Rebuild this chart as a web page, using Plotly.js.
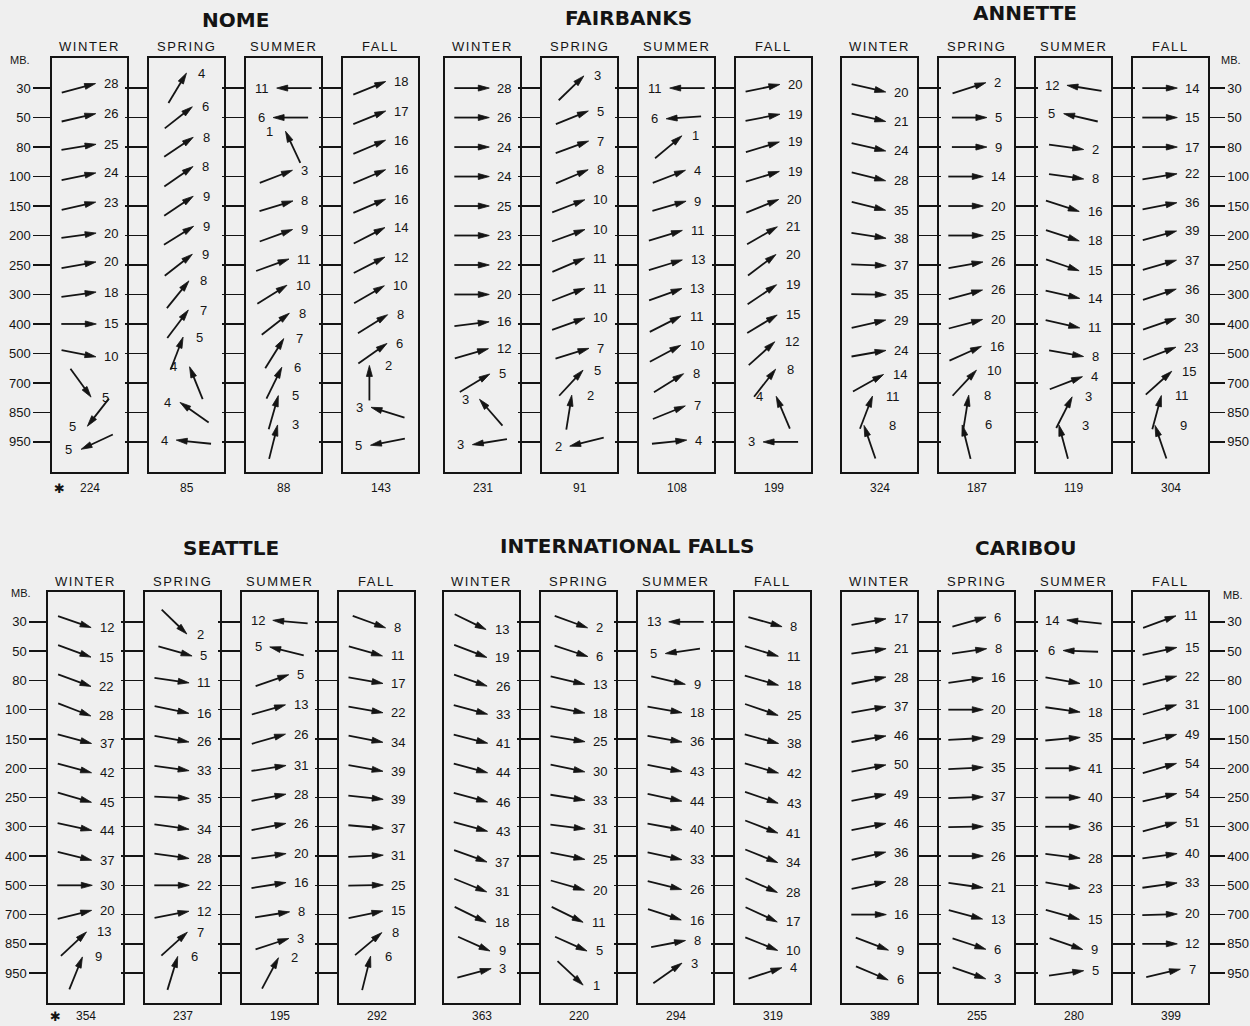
<!DOCTYPE html>
<html><head><meta charset="utf-8">
<script src="https://cdn.plot.ly/plotly-3.0.1.min.js"></script>
<style>body{margin:0;background:#efefef}</style>
</head><body><div id="chart" style="width:1250px;height:1026px"></div>
<script>
// ---------------- DATA ----------------
const LEVELS = ['30','50','80','100','150','200','250','300','400','500','700','850','950'];
const SEASONS = ['WINTER','SPRING','SUMMER','FALL'];
const STATIONS = ['NOME','FAIRBANKS','ANNETTE','SEATTLE','INTERNATIONAL FALLS','CARIBOU'];

// wind direction (degrees, direction the wind blows FROM), per season [winter, spring, summer, fall], per level
const NOME_DIR = [
 [255,257,261,258,257,262,260,262,270,281,324,38,65],
 [211,232,236,235,236,238,232,219,217,201,158,125,96],
 [90,90,155,249,253,250,250,238,232,212,206,196,194],
 [248,248,247,247,247,243,243,240,238,235,180,107,79]];
const NOME_SPD = [
 [28,26,25,24,23,20,20,18,15,10,5,5,5],
 [4,6,8,8,9,9,9,8,7,5,4,4,4],
 [11,6,1,3,8,9,11,10,8,7,6,5,3],
 [18,17,16,16,16,14,12,10,8,6,2,3,5]];
const NOME_N = [224,85,88,143];

const FAIRBANKS_DIR = [
 [270,270,270,270,270,270,270,270,263,254,239,139,81],
 [226,248,250,247,249,250,247,249,250,253,223,189,76],
 [90,86,230,249,254,253,253,250,243,242,238,248,264],
 [258,259,253,253,248,240,233,236,239,228,218,157,90]];
const FAIRBANKS_SPD = [
 [28,26,24,24,25,23,22,20,16,12,5,3,3],
 [3,5,7,8,10,10,11,11,10,7,5,2,2],
 [11,6,1,4,9,11,13,13,11,10,8,7,4],
 [20,19,19,19,20,21,20,19,15,12,8,4,3]];
const FAIRBANKS_N = [231,91,108,199];

const ANNETTE_DIR = [
 [283,283,283,284,284,279,272,271,257,260,241,201,161],
 [252,270,270,270,270,270,260,255,255,246,223,189,166],
 [99,103,278,278,288,288,289,283,283,280,249,207,165],
 [270,270,270,261,259,255,254,252,251,249,228,195,161]];
const ANNETTE_SPD = [
 [20,21,24,28,35,38,37,35,29,24,14,11,8],
 [2,5,9,14,20,25,26,26,20,16,10,8,6],
 [12,5,2,8,16,18,15,14,11,8,4,3,3],
 [14,15,17,22,36,39,37,36,30,23,15,11,9]];
const ANNETTE_N = [324,187,119,304];

const SEATTLE_DIR = [
 [289,290,290,291,285,285,286,282,284,270,256,227,202],
 [314,286,278,282,280,278,273,278,278,270,259,228,197],
 [95,104,251,254,254,261,259,259,262,261,261,252,208],
 [290,286,280,280,281,280,276,275,267,269,258,230,194]];
const SEATTLE_SPD = [
 [12,15,22,28,37,42,45,44,37,30,20,13,9],
 [2,5,11,16,26,33,35,34,28,22,12,7,6],
 [12,5,5,13,26,31,28,26,20,16,8,3,2],
 [8,11,17,22,34,39,39,37,31,25,15,8,6]];
const SEATTLE_N = [354,237,195,292];

const INTLFALLS_DIR = [
 [296,291,289,285,284,285,285,285,290,292,296,294,255],
 [290,288,283,281,279,282,279,277,281,286,296,294,313],
 [90,82,283,280,280,281,282,280,282,284,288,259,235],
 [286,287,286,289,285,286,289,291,292,294,295,292,252]];
const INTLFALLS_SPD = [
 [13,19,26,33,41,44,46,43,37,31,18,9,3],
 [2,6,13,18,25,30,33,31,25,20,11,5,1],
 [13,5,9,18,36,43,44,40,33,26,16,8,3],
 [8,11,18,25,38,42,43,41,34,28,17,10,4]];
const INTLFALLS_N = [363,220,294,319];

const CARIBOU_DIR = [
 [260,262,259,260,260,259,259,259,257,258,270,291,293],
 [254,262,262,270,267,267,268,269,270,278,285,288,289],
 [96,92,280,278,265,270,270,270,277,280,286,289,262],
 [250,258,256,254,255,254,257,255,262,262,268,270,257]];
const CARIBOU_SPD = [
 [17,21,28,37,46,50,49,46,36,28,16,9,6],
 [6,8,16,20,29,35,37,35,26,21,13,6,3],
 [14,6,10,18,35,41,40,36,28,23,15,9,5],
 [11,15,22,31,49,54,54,51,40,33,20,12,7]];
const CARIBOU_N = [389,255,280,399];

// ---------------- LAYOUT ----------------
const DIRS = [NOME_DIR, FAIRBANKS_DIR, ANNETTE_DIR, SEATTLE_DIR, INTLFALLS_DIR, CARIBOU_DIR];
const SPDS = [NOME_SPD, FAIRBANKS_SPD, ANNETTE_SPD, SEATTLE_SPD, INTLFALLS_SPD, CARIBOU_SPD];
const NS = [NOME_N, FAIRBANKS_N, ANNETTE_N, SEATTLE_N, INTLFALLS_N, CARIBOU_N];

const W = 1250, H = 1026;
const rowTop = [58, 592], rowBot = [472, 1003];
const stationLeft = [[52, 445, 842], [48, 444, 842]];
const seasonOff = [0, 97, 194, 291];
const panelW = 75;
const yRange = [13.02, -1.02];
const titleY = [[20, 18, 13], [548, 546, 548]];
const seasonY = [47, 581];
const countY = [488, 1016];
const INK = '#141414';
const numFont = {family: 'Liberation Sans, Arial, sans-serif', size: 13, color: INK};

const traces = [];
const annotations = [];
const layout = {
  width: W, height: H,
  margin: {l: 0, r: 0, t: 0, b: 0},
  paper_bgcolor: '#efefef', plot_bgcolor: 'rgba(0,0,0,0)',
  showlegend: false,
  annotations: annotations
};

function pap(x, y) { return {xref: 'paper', yref: 'paper', x: x / W, y: 1 - y / H}; }

for (let s = 0; s < 6; s++) {
  const row = Math.floor(s / 3), col = s % 3;
  const left0 = stationLeft[row][col];
  const pxPerY = (rowBot[row] - rowTop[row]) / (yRange[0] - yRange[1]);
  annotations.push(Object.assign(pap(left0 + (seasonOff[3] + panelW) / 2, titleY[row][col]), {
    text: STATIONS[s], showarrow: false, xanchor: 'center', yanchor: 'middle',
    font: {family: 'DejaVu Sans, sans-serif', size: 20, color: INK, weight: 'bold'}
  }));
  for (let q = 0; q < 4; q++) {
    const n = s * 4 + q + 1;
    const xid = 'x' + (n === 1 ? '' : n), yid = 'y' + (n === 1 ? '' : n);
    const xl = left0 + seasonOff[q];
    const xr = xl + panelW;
    const cxPx = (xl + xr) / 2;
    layout['xaxis' + (n === 1 ? '' : n)] = {
      domain: [xl / W, xr / W], anchor: yid, range: [-panelW / 2, panelW / 2],
      showline: true, mirror: true, linecolor: INK, linewidth: 1.6,
      showgrid: false, zeroline: false, ticks: '', showticklabels: false, fixedrange: true
    };
    const ya = {
      domain: [1 - rowBot[row] / H, 1 - rowTop[row] / H], anchor: xid, range: yRange,
      showline: true, mirror: true, linecolor: INK, linewidth: 1.6,
      showgrid: false, zeroline: false, fixedrange: true,
      tickmode: 'array', tickvals: LEVELS.map((_, i) => i), ticktext: LEVELS,
      ticks: '', showticklabels: false, tickcolor: INK, tickwidth: 1.4,
      tickfont: {family: 'Liberation Sans, Arial, sans-serif', size: 13, color: INK}
    };
    if (col === 2) {
      ya.side = 'right';
      ya.ticks = 'outside';
      if (q < 3) { ya.ticklen = 22; }
      else { ya.ticklen = 15; ya.showticklabels = true; }
    } else {
      if (q > 0) { ya.ticks = 'outside'; ya.ticklen = 22; }
      else if (col === 0) { ya.ticks = 'outside'; ya.ticklen = 17; ya.showticklabels = true; }
    }
    layout['yaxis' + (n === 1 ? '' : n)] = ya;

    annotations.push(Object.assign(pap(cxPx, seasonY[row]), {
      text: '<span style="letter-spacing:1.6px">' + SEASONS[q] + '</span>', showarrow: false,
      xanchor: 'center', yanchor: 'middle',
      font: {family: 'Liberation Sans, Arial, sans-serif', size: 13, color: INK}
    }));
    annotations.push(Object.assign(pap(cxPx, countY[row]), {
      text: String(NS[s][q]), showarrow: false, xanchor: 'center', yanchor: 'middle',
      font: {family: 'Liberation Sans, Arial, sans-serif', size: 12, color: INK}
    }));
    if (col === 0 && q === 0) {
      annotations.push(Object.assign(pap(xl + 7, countY[row]), {
        text: '✱', showarrow: false, xanchor: 'center', yanchor: 'middle',
        font: {family: 'DejaVu Sans, sans-serif', size: 13, color: INK}
      }));
    }

    // arrows
    const shaftX = [], shaftY = [], headX = [], headY = [];
    const L = 35, HL = 11, HW = 3;
    for (let i = 0; i < LEVELS.length; i++) {
      const d = DIRS[s][q][i], v = SPDS[s][q][i];
      const rad = d * Math.PI / 180;
      const ux = -Math.sin(rad), uy = Math.cos(rad); // screen px, y downwards
      const lw = String(v).length * 7.2;
      const aw = Math.abs(ux) * L;
      const g = 7 + 8 * (1 - Math.abs(ux));
      const sx = ux > -0.35 ? 1 : -1;
      const group = aw + g + lw, gx0 = -group / 2;
      let bx0, labX;
      if (sx > 0) { bx0 = gx0; labX = gx0 + aw + g; }
      else { labX = gx0 + lw; bx0 = gx0 + lw + g; }
      const acx = bx0 + aw / 2;
      const tx = acx - ux * L / 2, ty = -uy * L / 2;
      const hx = acx + ux * L / 2, hy = uy * L / 2;
      const bxp = hx - ux * HL, byp = hy - uy * HL;
      const nx = -uy, ny = ux;
      const toY = p => i + p / pxPerY;
      shaftX.push(tx, hx - ux * (HL - 2), null);
      shaftY.push(toY(ty), toY(hy - uy * (HL - 2)), null);
      headX.push(hx, bxp + nx * HW, bxp - nx * HW, hx, null);
      headY.push(toY(hy), toY(byp + ny * HW), toY(byp - ny * HW), toY(hy), null);
      annotations.push({
        xref: xid, yref: yid, x: labX, y: toY(hy), text: String(v), showarrow: false,
        xanchor: sx > 0 ? 'left' : 'right', yanchor: 'middle', borderpad: 0,
        font: numFont
      });
    }
    traces.push({
      type: 'scatter', mode: 'lines', x: shaftX, y: shaftY, xaxis: xid, yaxis: yid,
      line: {color: INK, width: 1.8}, hoverinfo: 'skip', connectgaps: false
    });
    traces.push({
      type: 'scatter', mode: 'lines', x: headX, y: headY, xaxis: xid, yaxis: yid,
      fill: 'toself', fillcolor: INK, line: {color: INK, width: 0.8},
      hoverinfo: 'skip', connectgaps: false
    });
  }
}

const mbPos = [[20, 60], [1231, 60], [21, 593], [1233, 595]];
mbPos.forEach(p => annotations.push(Object.assign(pap(p[0], p[1]), {
  text: 'MB.', showarrow: false, xanchor: 'center', yanchor: 'middle',
  font: {family: 'Liberation Sans, Arial, sans-serif', size: 11, color: INK}
})));

Plotly.newPlot('chart', traces, layout, {staticPlot: true, displayModeBar: false});
</script>
</body></html>
